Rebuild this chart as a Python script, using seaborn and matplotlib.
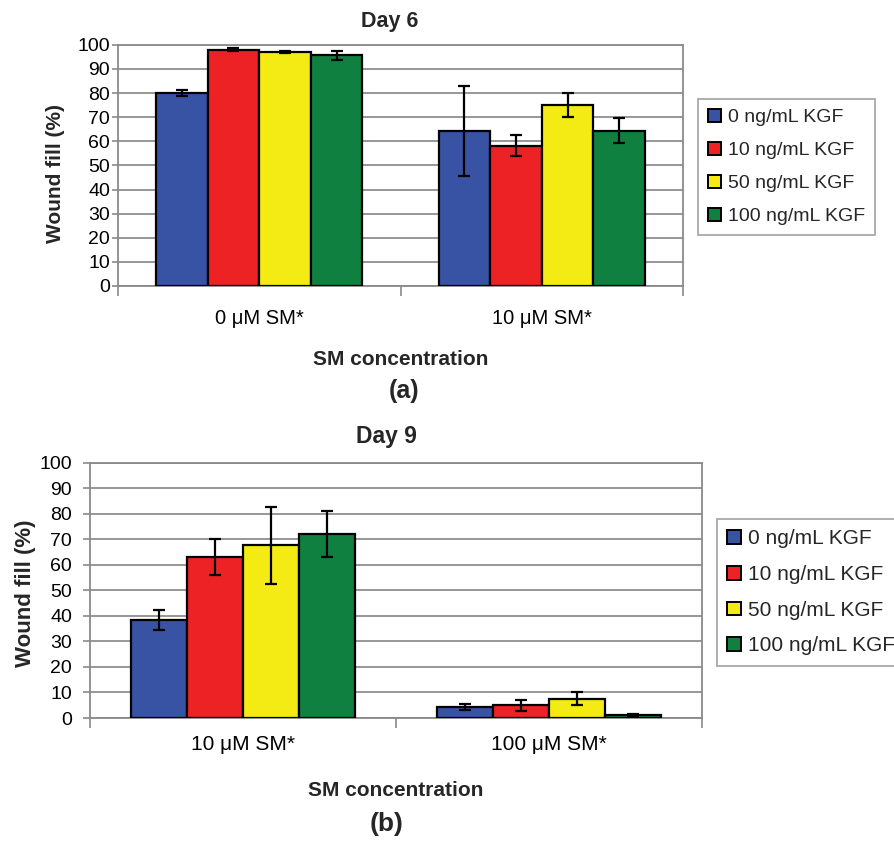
import matplotlib
matplotlib.use("Agg")
import matplotlib.pyplot as plt
import seaborn as sns
import pandas as pd

sns.set_theme(style="white")
plt.rcParams['font.family'] = ['Liberation Sans', 'DejaVu Sans']

kgf_levels = ["0 ng/mL KGF", "10 ng/mL KGF", "50 ng/mL KGF", "100 ng/mL KGF"]
colors = ["#3953A4", "#ED2224", "#F5EB14", "#108040"]

day6_groups = ["0 \u03bcM SM*", "10 \u03bcM SM*"]
day6_vals_0uM = [80.0, 98.0, 97.0, 95.6]
day6_err_0uM = [1.2, 0.5, 0.3, 1.9]
day6_vals_10uM = [64.4, 58.2, 75.1, 64.4]
day6_err_10uM = [18.6, 4.5, 4.9, 5.2]

day9_groups = ["10 \u03bcM SM*", "100 \u03bcM SM*"]
day9_vals_10uM = [38.4, 63.1, 67.6, 72.1]
day9_err_10uM = [3.8, 6.9, 15.0, 9.0]
day9_vals_100uM = [4.3, 5.0, 7.6, 1.2]
day9_err_100uM = [1.2, 2.2, 2.5, 0.3]

yticks = list(range(0, 101, 10))


def make_df(groups, vals_a, vals_b, err_a, err_b):
    rows = []
    for g, vals, errs in [(groups[0], vals_a, err_a), (groups[1], vals_b, err_b)]:
        for k, v, e in zip(kgf_levels, vals, errs):
            rows.append({"SM": g, "KGF": k, "fill": v, "err": e})
    return pd.DataFrame(rows)


def draw(ax, df, groups, title, st):
    sns.barplot(data=df, x="SM", y="fill", hue="KGF", order=groups,
                hue_order=kgf_levels, palette=colors, width=0.73,
                errorbar=None, edgecolor="black", linewidth=1.6,
                saturation=1, ax=ax, zorder=3)
    for hi, k in enumerate(kgf_levels):
        sub = df[df.KGF == k].set_index("SM").loc[groups]
        cont = ax.containers[hi]
        xs = [b.get_x() + b.get_width() / 2 for b in cont]
        ax.errorbar(xs, sub["fill"].values, yerr=sub["err"].values, fmt="none",
                    ecolor="black", elinewidth=1.6, capsize=4, capthick=1.6,
                    zorder=4)
    ax.set_ylim(0, 100)
    ax.set_xlim(-0.5, 1.5)
    ax.set_yticks(yticks)
    ax.yaxis.grid(True, color="#7a7a7a", linewidth=1.1, zorder=0)
    ax.set_axisbelow(True)
    for s in ax.spines.values():
        s.set_color("#8a8a8a")
        s.set_linewidth(1.3)
    ax.tick_params(axis="y", which="major", left=True, length=st["ylen"], width=1.2,
                   color="#8a8a8a", labelsize=st["ytick_fs"], pad=st["ypad"],
                   labelcolor="black")
    ax.set_xticks([0, 1])
    ax.set_xticklabels(groups)
    ax.tick_params(axis="x", which="major", bottom=False,
                   labelsize=st["xtick_fs"], pad=st["xpad"], labelcolor="black")
    ax.set_xticks([-0.5, 0.5, 1.5], minor=True)
    ax.tick_params(axis="x", which="minor", bottom=True, length=7, width=1.2,
                   color="#8a8a8a")
    ax.set_title(title, fontsize=st["title_fs"], fontweight="bold",
                 pad=st["title_pad"], x=st["title_x"])
    ax.set_xlabel("SM concentration", fontsize=st["label_fs"], fontweight="bold",
                  labelpad=st["xlabelpad"])
    ax.set_ylabel("Wound fill (%)", fontsize=st["ylabel_fs"], fontweight="bold",
                  labelpad=st["ylabelpad"])
    ax.yaxis.label.set_y(st["ylabel_y"])
    leg = ax.legend(title=None, loc="upper left", bbox_to_anchor=st["leg_anchor"],
                    bbox_transform=ax.figure.transFigure, fontsize=st["leg_fs"],
                    frameon=True, fancybox=False, edgecolor="#8a8a8a",
                    handlelength=st["hl"], handleheight=st["hl"],
                    handletextpad=0.37, labelspacing=st["ls"],
                    borderpad=0.5, borderaxespad=0)
    leg.get_frame().set_linewidth(1.2)
    for h in leg.legend_handles:
        h.set_edgecolor("black")
        h.set_linewidth(1.4)


fig = plt.figure(figsize=(8.94, 8.46), dpi=100)
ax1 = fig.add_axes([0.132, 0.662, 0.632, 0.285])
ax2 = fig.add_axes([0.1007, 0.1513, 0.6846, 0.3018])

df6 = make_df(day6_groups, day6_vals_0uM, day6_vals_10uM, day6_err_0uM, day6_err_10uM)
df9 = make_df(day9_groups, day9_vals_10uM, day9_vals_100uM, day9_err_10uM, day9_err_100uM)

style6 = dict(ytick_fs=14, ylen=4.3, ypad=1.5, xtick_fs=14.5, xpad=10.6,
              title_fs=15.5, title_pad=13, title_x=0.481, label_fs=15,
              xlabelpad=16, ylabel_fs=15, ylabelpad=9,
              ylabel_y=0.465, leg_anchor=(0.781, 0.883), leg_fs=14, hl=0.68,
              ls=0.8)
style9 = dict(ytick_fs=14, ylen=5, ypad=8, xtick_fs=15, xpad=6.5,
              title_fs=16.5, title_pad=14, title_x=0.485, label_fs=15,
              xlabelpad=19, ylabel_fs=16, ylabelpad=2.5,
              ylabel_y=0.49, leg_anchor=(0.802, 0.3865), leg_fs=15, hl=0.64,
              ls=0.8)

draw(ax1, df6, day6_groups, "Day 6", style6)
draw(ax2, df9, day9_groups, "Day 9", style9)

fig.text(404 / 894, 1 - 391 / 846, "(a)", fontsize=18, fontweight="bold",
         ha="center", va="center")
fig.text(387 / 894, 1 - 824 / 846, "(b)", fontsize=19, fontweight="bold",
         ha="center", va="center")

fig.savefig("out.png", dpi=100, facecolor="white")
